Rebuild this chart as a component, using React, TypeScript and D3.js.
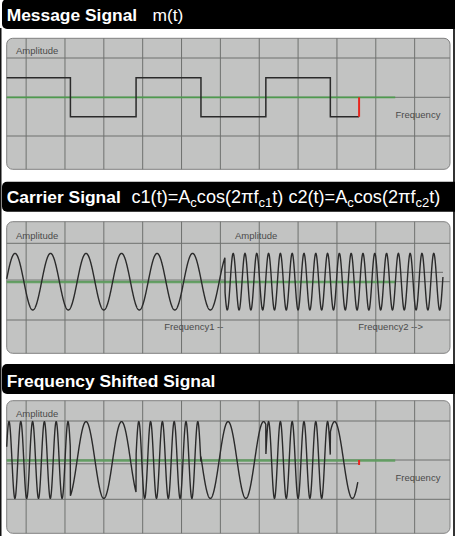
import { useEffect, useRef } from 'react';
import * as d3 from 'd3';

// message bits and their edges, in grid units of time
const messageBits = [1, 0, 1, 0, 1, 0];
const bitEdges = [0, 1.64, 3.33, 5.0, 6.67, 8.33, 9.07];

// carriers: period and time of a peak, grid units
const carrier1 = { period: 0.914, peakAt: 0.214 };
const carrier2 = { period: 0.3037, peakAt: 0.059 };
const carrierSwitch = 5.62;
const carrierEnd = 11.23;
const greenEnd = 10.0;

const gridCols = d3.range(0.5, 11, 1);

const W = 455;
const H = 536;

export default function App() {
  const svgRef = useRef<SVGSVGElement>(null);

  useEffect(() => {
    if (!svgRef.current) return;
    const svg = d3.select(svgRef.current);
    svg.selectAll('*').remove();

    const left = 6.7;
    const right = 450;
    const x = d3.scaleLinear().domain([0, 11.41]).range([left, right]);

    const cos = (c: { period: number; peakAt: number }, t: number) =>
      Math.cos((2 * Math.PI * (t - c.peakAt)) / c.period);

    const bitAt = (t: number) => {
      const i = d3.bisectRight(bitEdges, t) - 1;
      return messageBits[Math.max(0, Math.min(messageBits.length - 1, i))];
    };

    // page borders
    svg.append('line').attr('x1', 0.75).attr('x2', 0.75).attr('y1', 28).attr('y2', H)
      .attr('stroke', '#111').attr('stroke-width', 1.5);
    svg.append('line').attr('x1', 454).attr('x2', 454).attr('y1', 28).attr('y2', H)
      .attr('stroke', '#333').attr('stroke-width', 2);

    const header = (top: number, base: number) => {
      svg.append('rect').attr('x', 2).attr('y', top).attr('width', W + 10).attr('height', 30)
        .attr('rx', 5).attr('fill', '#000');
      return svg.append('text').attr('x', 6.7).attr('y', base)
        .attr('fill', '#fff').attr('font-family', 'Liberation Sans, Arial, sans-serif')
        .attr('font-size', 17.4);
    };

    const panel = (top: number, bottom: number, gridY: number[]) => {
      const g = svg.append('g');
      g.append('rect').attr('x', left).attr('y', top).attr('width', right - left)
        .attr('height', bottom - top).attr('rx', 6).attr('fill', '#c2c3c2')
        .attr('stroke', '#808080').attr('stroke-width', 1);
      gridCols.forEach((c) => {
        g.append('line').attr('x1', x(c)).attr('x2', x(c)).attr('y1', top).attr('y2', bottom)
          .attr('stroke', '#6f716f').attr('stroke-width', 1);
      });
      gridY.forEach((y) => {
        g.append('line').attr('x1', left).attr('x2', right).attr('y1', y).attr('y2', y)
          .attr('stroke', '#6f716f').attr('stroke-width', 1);
      });
      return g;
    };

    const label = (g: d3.Selection<SVGGElement, unknown, null, undefined>, tx: number, ty: number, s: string) =>
      g.append('text').attr('x', tx).attr('y', ty).attr('fill', '#4a4a4a')
        .attr('font-family', 'Liberation Sans, Arial, sans-serif').attr('font-size', 9.5).text(s);

    const wave = '#2a2a2a';

    // ---- Message ----
    const h1 = header(-1, 20.7);
    h1.append('tspan').attr('font-weight', 'bold').text('Message Signal');
    h1.append('tspan').attr('x', 152.5).text('m(t)');

    const p1 = panel(38.3, 169.3, [58, 97.3, 136]);
    const y1 = d3.scaleLinear().domain([-1, 1]).range([116.8, 77.8]);
    p1.append('line').attr('x1', x(0)).attr('x2', x(greenEnd)).attr('y1', y1(0)).attr('y2', y1(0))
      .attr('stroke', '#4e9a4e').attr('stroke-width', 1.8);
    const sq = bitEdges.map((e, i) => ({ t: e, v: messageBits[Math.min(i, messageBits.length - 1)] ? 1 : -1 }));
    p1.append('path')
      .attr('d', d3.line<{ t: number; v: number }>().x((d) => x(d.t)).y((d) => y1(d.v)).curve(d3.curveStepAfter)(sq))
      .attr('fill', 'none').attr('stroke', wave).attr('stroke-width', 1.5);
    const tEnd = bitEdges[bitEdges.length - 1];
    p1.append('line').attr('x1', x(tEnd)).attr('x2', x(tEnd)).attr('y1', y1(0)).attr('y2', y1(-1))
      .attr('stroke', '#e8261e').attr('stroke-width', 2);
    label(p1, 16, 54, 'Amplitude');
    label(p1, 395.5, 117.5, 'Frequency');

    // ---- Carrier ----
    const h2 = header(181.7, 203.3);
    h2.append('tspan').attr('font-weight', 'bold').text('Carrier Signal');
    const parts: [string, boolean][] = [
      ['c1(t)=A', false], ['c', true], ['cos(2πf', false], ['c1', true], ['t) c2(t)=A', false],
      ['c', true], ['cos(2πf', false], ['c2', true], ['t)', false],
    ];
    let sub = false;
    parts.forEach(([s, isSub], i) => {
      const dy = isSub === sub ? 0 : isSub ? 4 : -4;
      sub = isSub;
      const ts = h2.append('tspan').attr('dy', dy).attr('font-size', isSub ? 13 : 18.1).text(s);
      if (i === 0) ts.attr('x', 131.5);
    });

    const p2 = panel(221.7, 353.3, [243.3, 281.7, 320]);
    const y2 = d3.scaleLinear().domain([-1, 1]).range([310, 253.4]);
    p2.append('line').attr('x1', x(0)).attr('x2', x(carrierSwitch)).attr('y1', 280).attr('y2', 280)
      .attr('stroke', '#7a7a7a').attr('stroke-width', 1);
    p2.append('line').attr('x1', x(0)).attr('x2', x(greenEnd)).attr('y1', 282).attr('y2', 282)
      .attr('stroke', '#5e9e5e').attr('stroke-width', 2.6).attr('opacity', 0.9);
    p2.append('line').attr('x1', x(carrierSwitch)).attr('x2', x(carrierEnd)).attr('y1', 272.3).attr('y2', 272.3)
      .attr('stroke', '#6a6a6a').attr('stroke-width', 1);
    const step = 0.004;
    const c1pts = d3.range(0, carrierSwitch, step).map((t) => [t, cos(carrier1, t)]);
    const c2pts = d3.range(carrierSwitch, carrierEnd, step).map((t) => [t, cos(carrier2, t)]);
    const ln = d3.line<number[]>().x((d) => x(d[0])).y((d) => y2(d[1]));
    p2.append('path').attr('d', ln([...c1pts, ...c2pts]))
      .attr('fill', 'none').attr('stroke', wave).attr('stroke-width', 1.4);
    label(p2, 16, 238.5, 'Amplitude');
    label(p2, 235, 238.5, 'Amplitude');
    label(p2, 164.3, 330, 'Frequency1 --');
    label(p2, 358.3, 330, 'Frequency2 -->');

    // ---- FSK ----
    const h3 = header(364, 386.7);
    h3.append('tspan').attr('font-weight', 'bold').text('Frequency Shifted Signal');

    const p3 = panel(400.7, 533.3, [421, 460, 499.3]);
    const y3 = d3.scaleLinear().domain([-1, 1]).range([498.4, 421.6]);
    p3.append('line').attr('x1', x(0)).attr('x2', x(greenEnd)).attr('y1', 460.5).attr('y2', 460.5)
      .attr('stroke', '#5e9e5e').attr('stroke-width', 2.6).attr('opacity', 0.9);
    p3.append('line').attr('x1', x(0)).attr('x2', x(tEnd)).attr('y1', 463.8).attr('y2', 463.8)
      .attr('stroke', '#6a6a6a').attr('stroke-width', 1);
    const fsk = d3.range(0, tEnd - 0.03, step).map((t) => [t, bitAt(t) ? cos(carrier2, t) : cos(carrier1, t)]);
    const ln3 = d3.line<number[]>().x((d) => x(d[0])).y((d) => y3(d[1]));
    p3.append('path').attr('d', ln3(fsk))
      .attr('fill', 'none').attr('stroke', wave).attr('stroke-width', 1.4);
    p3.append('line').attr('x1', x(tEnd)).attr('x2', x(tEnd)).attr('y1', 460).attr('y2', 465)
      .attr('stroke', '#e8261e').attr('stroke-width', 2);
    label(p3, 16, 417, 'Amplitude');
    label(p3, 395.5, 481, 'Frequency');
  }, []);

  return (
    <svg ref={svgRef} width={W} height={H} style={{ position: 'absolute', left: 0, top: 0, background: '#fff' }} />
  );
}
